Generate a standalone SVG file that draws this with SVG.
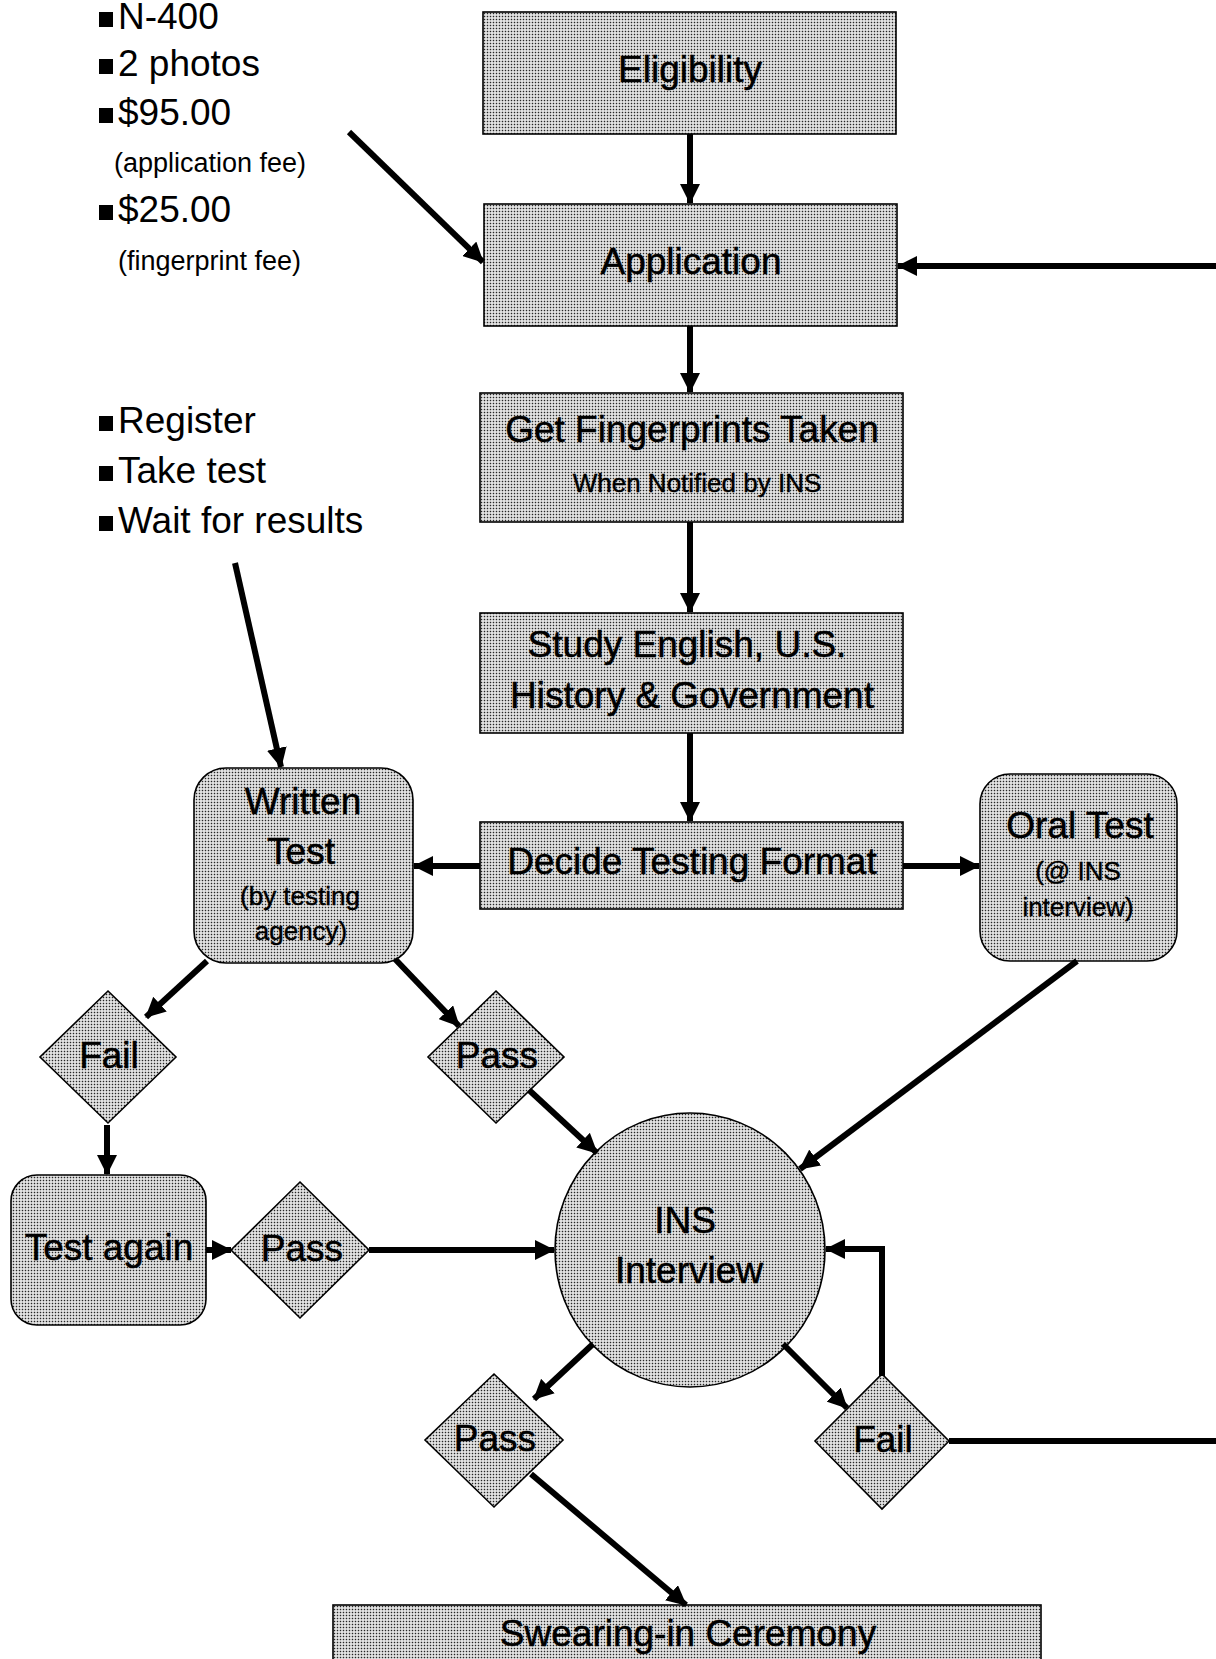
<svg xmlns="http://www.w3.org/2000/svg" width="1216" height="1659" viewBox="0 0 1216 1659">
<defs>
<pattern id="dots" width="3" height="3" patternUnits="userSpaceOnUse">
<rect width="3" height="3" fill="#eeeeee"/>
<rect x="0.75" y="0.75" width="1.5" height="1.5" fill="#262626"/>
</pattern>
<marker id="ah" markerUnits="userSpaceOnUse" markerWidth="20" markerHeight="20" refX="19" refY="10" orient="auto">
<path d="M0,0 L20,10 L0,20 z" fill="#000"/>
</marker>
<style>
.box{fill:url(#dots);stroke:#000;stroke-width:1.6}
.t{font-family:"Liberation Sans",Arial,sans-serif;font-size:37px;fill:#000;stroke:#000;stroke-width:0.5;text-anchor:middle}
.s{font-family:"Liberation Sans",Arial,sans-serif;font-size:26px;fill:#000;stroke:#000;stroke-width:0.4;text-anchor:middle}
.l{font-family:"Liberation Sans",Arial,sans-serif;font-size:37px;fill:#000}
.ls{font-family:"Liberation Sans",Arial,sans-serif;font-size:27px;fill:#000}
.b{fill:#000}
.c{fill:none;stroke:#000;stroke-width:6}
.a{marker-end:url(#ah)}
</style>
</defs>
<rect width="1216" height="1659" fill="#fff"/>

<g id="list-application">
<rect class="b" x="99" y="12" width="14" height="15"/>
<text class="l" x="118" y="29">N-400</text>
<rect class="b" x="99" y="59" width="14" height="15"/>
<text class="l" x="118" y="76">2 photos</text>
<rect class="b" x="99" y="108" width="14" height="15"/>
<text class="l" x="118" y="125">$95.00</text>
<text class="ls" x="114" y="172">(application fee)</text>
<rect class="b" x="99" y="205" width="14" height="15"/>
<text class="l" x="118" y="222">$25.00</text>
<text class="ls" x="118" y="270">(fingerprint fee)</text>
</g>

<g id="list-test">
<rect class="b" x="99" y="416" width="14" height="15"/>
<text class="l" x="118" y="433">Register</text>
<rect class="b" x="99" y="466" width="14" height="15"/>
<text class="l" x="118" y="483">Take test</text>
<rect class="b" x="99" y="516" width="14" height="15"/>
<text class="l" x="118" y="533">Wait for results</text>
</g>

<g id="eligibility">
<rect class="box" x="483" y="12" width="413" height="122"/>
<text class="t" x="690" y="82">Eligibility</text>
</g>
<g id="application">
<rect class="box" x="484" y="204" width="413" height="122"/>
<text class="t" x="691" y="274">Application</text>
</g>
<g id="fingerprints">
<rect class="box" x="480" y="393" width="423" height="129"/>
<text class="t" x="692" y="442">Get Fingerprints Taken</text>
<text class="s" x="697" y="492">When Notified by INS</text>
</g>
<g id="study">
<rect class="box" x="480" y="613" width="423" height="120"/>
<text class="t" x="687" y="657">Study English, U.S.</text>
<text class="t" x="692" y="708">History &amp; Government</text>
</g>
<g id="decide">
<rect class="box" x="480" y="822" width="423" height="87"/>
<text class="t" x="692" y="874">Decide Testing Format</text>
</g>
<g id="written-test">
<rect class="box" x="194" y="768" width="219" height="195" rx="32" ry="32"/>
<text class="t" x="303" y="814">Written</text>
<text class="t" x="301" y="864">Test</text>
<text class="s" x="300" y="905">(by testing</text>
<text class="s" x="301" y="940">agency)</text>
</g>
<g id="oral-test">
<rect class="box" x="980" y="774" width="197" height="187" rx="30" ry="30"/>
<text class="t" x="1080" y="838">Oral Test</text>
<text class="s" x="1078" y="880">(@ INS</text>
<text class="s" x="1078" y="916">interview)</text>
</g>
<g id="fail-1">
<polygon class="box" points="108,991 176,1057 108,1123 40,1057"/>
<text class="t" x="109" y="1068">Fail</text>
</g>
<g id="pass-1">
<polygon class="box" points="496,991 564,1057 496,1123 428,1057"/>
<text class="t" x="497" y="1068">Pass</text>
</g>
<g id="test-again">
<rect class="box" x="11" y="1175" width="195" height="150" rx="26" ry="26"/>
<text class="t" x="109" y="1260">Test again</text>
</g>
<g id="pass-2">
<polygon class="box" points="300,1182 369,1250 300,1318 231,1250"/>
<text class="t" x="302" y="1261">Pass</text>
</g>
<g id="ins-interview">
<ellipse class="box" cx="690" cy="1250" rx="135" ry="137"/>
<text class="t" x="685" y="1233">INS</text>
<text class="t" x="689" y="1283">Interview</text>
</g>
<g id="pass-3">
<polygon class="box" points="494,1374 563,1440 494,1507 425,1440"/>
<text class="t" x="495" y="1451">Pass</text>
</g>
<g id="fail-2">
<polygon class="box" points="882,1374 949,1441 882,1509 815,1441"/>
<text class="t" x="883" y="1452">Fail</text>
</g>
<g id="swearing-in">
<rect class="box" x="333" y="1605" width="708" height="70"/>
<text class="t" x="688" y="1646">Swearing-in Ceremony</text>
</g>

<g id="connectors">
<path class="c a" d="M690,134 L690,203"/>
<path class="c a" d="M349,132 L483,262"/>
<path class="c a" d="M1216,266 L898,266"/>
<path class="c a" d="M690,326 L690,392"/>
<path class="c a" d="M690,522 L690,612"/>
<path class="c a" d="M690,733 L690,821"/>
<path class="c a" d="M480,866 L414,866"/>
<path class="c a" d="M903,866 L979,866"/>
<path class="c a" d="M235,563 L281,767"/>
<path class="c a" d="M207,961 L146,1017"/>
<path class="c a" d="M395,959 L459,1026"/>
<path class="c a" d="M107,1125 L107,1174"/>
<path class="c a" d="M206,1250 L231,1250"/>
<path class="c a" d="M369,1250 L554,1250"/>
<path class="c a" d="M529,1090 L597,1153"/>
<path class="c a" d="M1077,961 L800,1169"/>
<path class="c a" d="M593,1344 L534,1399"/>
<path class="c a" d="M783,1344 L847,1408"/>
<path class="c a" d="M882,1376 L882,1249 L826,1249"/>
<path class="c" d="M949,1441 L1216,1441"/>
<path class="c a" d="M531,1474 L686,1605"/>
</g>
</svg>
